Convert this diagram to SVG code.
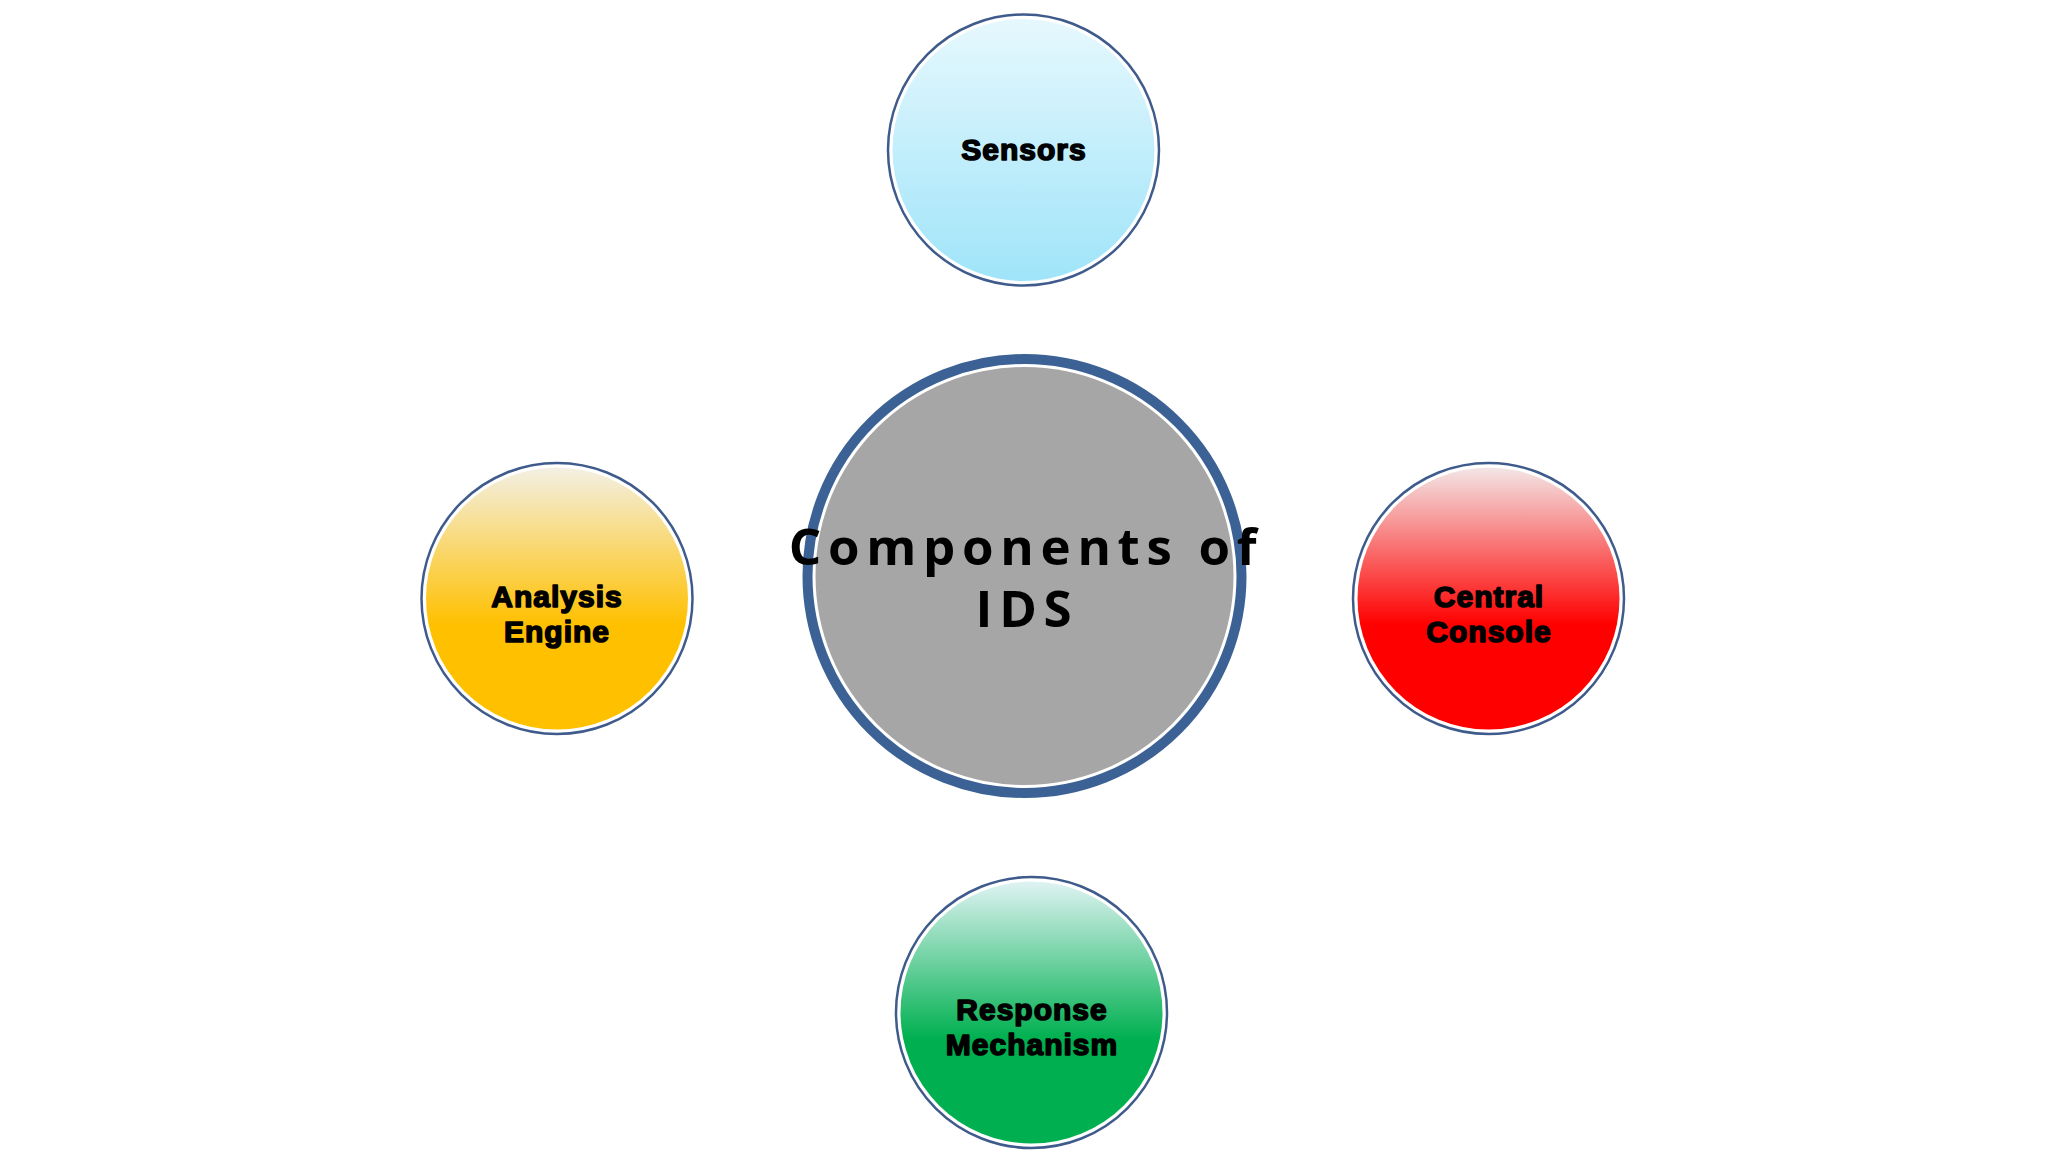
<svg xmlns="http://www.w3.org/2000/svg" width="2048" height="1152" viewBox="0 0 2048 1152">
<style>
.ring{fill:#ffffff;stroke:#3f5b8c;stroke-width:2.5}
.lbl{font-family:"Liberation Sans",Arial,sans-serif;font-weight:bold;font-size:30px;fill:#000;stroke:#000;stroke-width:1.6;stroke-linejoin:round;text-anchor:middle;letter-spacing:1px}
.title{font-family:"Open Sans","Noto Sans",sans-serif;font-weight:bold;font-size:51px;fill:#000;text-anchor:middle;letter-spacing:6.7px}
</style>
<defs>
<linearGradient id="gBlue" x1="0" y1="0" x2="0" y2="1">
<stop offset="0" stop-color="#e6f8fd"/>
<stop offset="1" stop-color="#9fe4f9"/>
</linearGradient>
<linearGradient id="gYellow" x1="0" y1="0" x2="0" y2="1">
<stop offset="0" stop-color="#f3f0e4"/>
<stop offset="0.6" stop-color="#ffc000"/>
<stop offset="1" stop-color="#ffc000"/>
</linearGradient>
<linearGradient id="gRed" x1="0" y1="0" x2="0" y2="1">
<stop offset="0" stop-color="#f3e6e6"/>
<stop offset="0.6" stop-color="#ff0000"/>
<stop offset="1" stop-color="#ff0000"/>
</linearGradient>
<linearGradient id="gGreen" x1="0" y1="0" x2="0" y2="1">
<stop offset="0" stop-color="#dff3f3"/>
<stop offset="0.6" stop-color="#00b050"/>
<stop offset="1" stop-color="#00b050"/>
</linearGradient>
</defs>
<rect width="2048" height="1152" fill="#ffffff"/>
<g id="connectors"></g>
<g id="center">
<circle cx="1024.5" cy="576" r="217" fill="#ffffff" stroke="#3c6194" stroke-width="10"/>
<circle cx="1024.5" cy="576" r="209" fill="#a6a6a6"/>
<text class="title" x="1026" y="565">Components of</text>
<text class="title" x="1027" y="627">IDS</text>
</g>
<g id="sensors">
<circle class="ring" cx="1023.5" cy="150" r="135.5"/>
<circle cx="1023.5" cy="150" r="131" fill="url(#gBlue)"/>
<text class="lbl" x="1024" y="160">Sensors</text>
</g>
<g id="analysis">
<circle class="ring" cx="557" cy="598.5" r="135.5"/>
<circle cx="557" cy="598.5" r="131" fill="url(#gYellow)"/>
<text class="lbl" x="557" y="607">Analysis</text>
<text class="lbl" x="557" y="642">Engine</text>
</g>
<g id="console">
<circle class="ring" cx="1488.5" cy="598.5" r="135.5"/>
<circle cx="1488.5" cy="598.5" r="131" fill="url(#gRed)"/>
<text class="lbl" x="1489" y="607">Central</text>
<text class="lbl" x="1489" y="642">Console</text>
</g>
<g id="response">
<circle class="ring" cx="1031.5" cy="1012.5" r="135.5"/>
<circle cx="1031.5" cy="1012.5" r="131" fill="url(#gGreen)"/>
<text class="lbl" x="1032" y="1020">Response</text>
<text class="lbl" x="1032" y="1055">Mechanism</text>
</g>
</svg>
